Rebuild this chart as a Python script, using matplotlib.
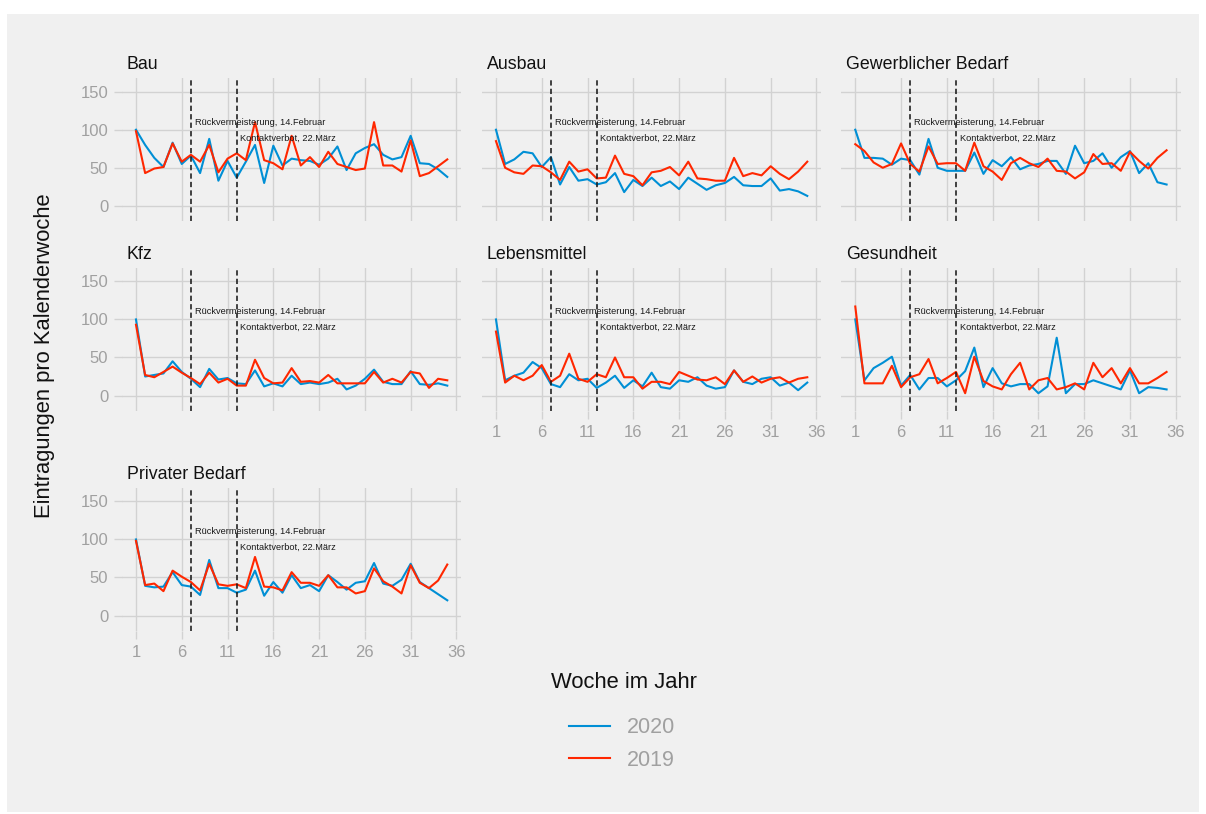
import matplotlib
matplotlib.use('Agg')
import matplotlib.pyplot as plt
from matplotlib.lines import Line2D
from matplotlib.patches import Rectangle

plt.rcParams['font.family'] = ['Liberation Sans', 'DejaVu Sans']

weeks = list(range(1, 36))
categories = ["Bau", "Ausbau", "Gewerblicher Bedarf", "Kfz", "Lebensmittel",
              "Gesundheit", "Privater Bedarf"]

bau_2020 = [100, 80, 63, 51, 83, 55, 66, 43, 88, 33, 59, 37, 58, 80, 30, 79, 53, 62,
            60, 59, 54, 62, 78, 47, 69, 76, 81, 67, 61, 64, 92, 56, 55, 48, 38]
bau_2019 = [98, 43, 49, 51, 82, 58, 67, 58, 80, 44, 62, 69, 60, 110, 60, 56, 48, 92,
            53, 64, 51, 71, 55, 51, 47, 49, 110, 53, 53, 45, 86, 39, 43, 52, 61]

ausbau_2020 = [100, 55, 61, 71, 69, 51, 64, 28, 51, 33, 35, 28, 31, 43, 18, 34, 26, 37,
               26, 32, 22, 37, 29, 21, 27, 30, 38, 27, 26, 26, 36, 20, 22, 19, 13]
ausbau_2019 = [85, 50, 44, 42, 53, 52, 44, 34, 58, 45, 48, 36, 37, 66, 42, 39, 27, 44,
               46, 51, 40, 58, 36, 35, 33, 33, 63, 39, 43, 40, 52, 42, 35, 45, 58]

gewerb_2020 = [100, 63, 63, 62, 54, 62, 60, 41, 88, 50, 46, 46, 46, 70, 42, 60, 52, 64,
               48, 53, 55, 59, 59, 42, 79, 56, 59, 69, 50, 64, 72, 43, 56, 31, 28]
gewerb_2019 = [81, 72, 57, 50, 55, 82, 55, 45, 78, 55, 56, 56, 46, 83, 52, 45, 34, 56,
               63, 56, 51, 62, 46, 45, 36, 44, 68, 55, 56, 46, 71, 59, 49, 63, 73]

kfz_2020 = [100, 25, 27, 29, 45, 31, 22, 11, 35, 21, 23, 16, 15, 33, 12, 16, 12, 26,
            15, 17, 15, 17, 22, 8, 13, 22, 34, 18, 15, 15, 32, 15, 14, 16, 13]
kfz_2019 = [93, 27, 24, 31, 38, 30, 23, 15, 30, 17, 22, 13, 13, 47, 23, 16, 17, 36,
            18, 19, 17, 27, 16, 16, 16, 16, 31, 17, 22, 17, 31, 29, 10, 22, 20]

leben_2020 = [100, 20, 26, 30, 44, 36, 15, 11, 28, 20, 22, 10, 17, 26, 10, 20, 12, 30,
              11, 9, 20, 18, 24, 13, 9, 11, 33, 18, 15, 22, 24, 13, 17, 7, 17]
leben_2019 = [84, 17, 26, 20, 26, 40, 18, 26, 55, 22, 18, 28, 24, 50, 24, 24, 9, 18,
              18, 15, 31, 26, 21, 20, 24, 15, 33, 18, 25, 17, 22, 24, 17, 22, 24]

gesund_2020 = [100, 20, 36, 43, 51, 13, 27, 8, 23, 23, 12, 20, 32, 63, 11, 36, 16, 12,
               15, 15, 3, 12, 76, 3, 15, 15, 20, 16, 12, 8, 33, 3, 11, 10, 8]
gesund_2019 = [117, 16, 16, 16, 39, 11, 24, 28, 48, 16, 23, 31, 3, 51, 19, 12, 8, 28,
               43, 8, 20, 23, 8, 11, 16, 8, 43, 24, 36, 16, 36, 16, 16, 23, 31]

privat_2020 = [100, 39, 37, 38, 57, 40, 38, 27, 73, 36, 36, 30, 34, 59, 26, 44, 30, 53,
               36, 40, 32, 53, 44, 34, 43, 45, 69, 42, 39, 47, 68, 44, 36, 28, 20]
privat_2019 = [98, 40, 42, 32, 59, 51, 44, 33, 68, 41, 39, 41, 36, 77, 38, 37, 33, 57,
               43, 43, 39, 53, 37, 37, 29, 32, 62, 45, 38, 29, 66, 43, 36, 46, 67]

series_2020 = [bau_2020, ausbau_2020, gewerb_2020, kfz_2020, leben_2020, gesund_2020, privat_2020]
series_2019 = [bau_2019, ausbau_2019, gewerb_2019, kfz_2019, leben_2019, gesund_2019, privat_2019]

x_ticks = [1, 6, 11, 16, 21, 26, 31, 36]
y_ticks = [0, 50, 100, 150]
events = [7, 12]
event_labels = ["Rückvermeisterung, 14.Februar", "Kontaktverbot, 22.März"]
event_label_x = [7.45, 12.4]
event_label_y = [110, 89]
legend_labels = ["2020", "2019"]

BLUE = '#008FD5'
RED = '#FF2700'
BG = '#F0F0F0'
GRID = '#D2D2D2'
TICKLAB = '#A0A0A0'

W, H = 1206, 814
fig = plt.figure(figsize=(W / 100, H / 100), dpi=100, facecolor='white')
fig.patches.append(Rectangle((7 / W, 2 / H), 1192 / W, 798 / H, transform=fig.transFigure,
                             facecolor=BG, edgecolor='none', zorder=-10))

col_left = [121.7, 481.7, 841.0]
row_top = [78.3, 268.0, 488.0]
pw, ph = 339.5, 142.5
positions = [(0, 0), (0, 1), (0, 2), (1, 0), (1, 1), (1, 2), (2, 0)]
bottom_panels = {(1, 1), (1, 2), (2, 0)}

for i, (r, c) in enumerate(positions):
    l = col_left[c]
    t = row_top[r]
    ax = fig.add_axes([l / W, 1 - (t + ph) / H, pw / W, ph / H])
    ax.set_facecolor(BG)
    for s in ax.spines.values():
        s.set_visible(False)
    ax.set_xlim(-0.56, 36.52)
    ax.set_ylim(-19.7, 167.6)
    ax.set_xticks(x_ticks)
    ax.set_yticks(y_ticks)
    ax.grid(True, color=GRID, lw=1.0)
    ax.set_axisbelow(True)
    ax.tick_params(axis='both', length=6.1, width=1.0, color=GRID, labelcolor=TICKLAB,
                   labelsize=12, pad=3.6)
    if (r, c) not in bottom_panels:
        ax.tick_params(axis='x', length=0, labelbottom=False)
    else:
        ax.tick_params(axis='x', pad=4.6)
    if c != 0:
        ax.tick_params(axis='y', length=0, labelleft=False)

    ax.plot(weeks, series_2020[i], color=BLUE, lw=1.5, zorder=3)
    ax.plot(weeks, series_2019[i], color=RED, lw=1.5, zorder=4)

    for ev in events:
        ax.axvline(ev, color='#1a1a1a', lw=1.15, ls=(0, (3.3, 2.0)), zorder=5)
    for lab, lx, ly in zip(event_labels, event_label_x, event_label_y):
        ax.text(lx, ly, lab, ha='left', va='center', fontsize=6.7, color='#1a1a1a', zorder=6)

    ax.text(5 / pw, 1 + 13.8 / ph, categories[i], transform=ax.transAxes,
            ha='left', va='center', fontsize=12.8, color='#111111')

fig.text(45 / W, 1 - 356 / H, 'Eintragungen pro Kalenderwoche', rotation=90,
         ha='center', va='center', fontsize=15.8, color='#111111')
fig.text(624 / W, 1 - 683 / H, 'Woche im Jahr', ha='center', va='center',
         fontsize=15.8, color='#111111')

handles = [Line2D([], [], color=BLUE, lw=1.5), Line2D([], [], color=RED, lw=1.5)]
fig.legend(handles=handles, labels=legend_labels, loc='center',
           bbox_to_anchor=(622 / W, 1 - 744 / H), frameon=False, fontsize=15.5,
           handlelength=1.9, handletextpad=0.78, labelspacing=0.55, labelcolor=TICKLAB)

fig.savefig('out.png', dpi=100, facecolor='white')
